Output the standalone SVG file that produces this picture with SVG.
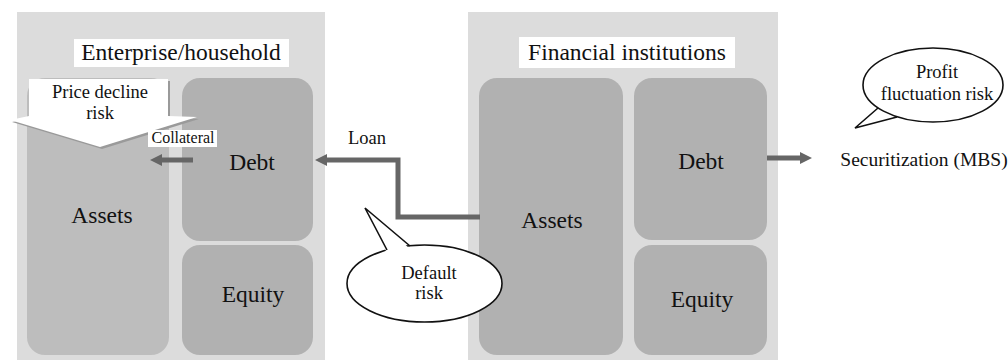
<svg xmlns="http://www.w3.org/2000/svg" width="1008" height="360" viewBox="0 0 1008 360">
<defs>
<style>
text{font-family:"Liberation Serif","Times New Roman",serif;fill:#111;text-anchor:middle}
.panel{fill:#dcdcdc}
.title{fill:#fff}
.box1{fill:#bdbdbd}
.box2{fill:#b1b1b1}
.big{font-size:23.5px}
.head{font-size:23.5px}
.mid{font-size:18.5px}
.small{font-size:16px}
.conn{fill:none;stroke:#666;stroke-width:5}
.bubble{fill:#fff;stroke:#111;stroke-width:1.6}
.tail{fill:#fff;stroke:none}
.tailline{fill:none;stroke:#111;stroke-width:1.6}
</style>
<marker id="ah" viewBox="0 0 12 12" refX="2" refY="6" markerWidth="12" markerHeight="12" markerUnits="userSpaceOnUse" orient="auto">
<path d="M0,0 L12,6 L0,12 z" fill="#666"/>
</marker>
</defs>
<rect width="1008" height="360" fill="#fff"/>

<g id="enterprise">
<rect class="panel" x="17" y="12" width="308" height="348"/>
<rect class="title" x="74" y="39" width="215" height="28"/>
<text class="head" x="181" y="60">Enterprise/household</text>
</g>
<g id="ent-assets">
<rect class="box1" x="27" y="78" width="142" height="277" rx="18"/>
<text class="big" x="102" y="223">Assets</text>
</g>
<g id="ent-debt">
<rect class="box2" x="182" y="78" width="131" height="163" rx="18"/>
<text class="big" x="252" y="170">Debt</text>
</g>
<g id="ent-equity">
<rect class="box2" x="182" y="245" width="131" height="110" rx="18"/>
<text class="big" x="253" y="302">Equity</text>
</g>

<g id="financial">
<rect class="panel" x="468" y="12" width="310" height="348"/>
<rect class="title" x="519" y="37" width="216" height="31"/>
<text class="head" x="627" y="60">Financial institutions</text>
</g>
<g id="fin-assets">
<rect class="box2" x="479" y="78" width="144" height="277" rx="18"/>
<text class="big" x="552" y="228">Assets</text>
</g>
<g id="fin-debt">
<rect class="box2" x="634" y="78" width="133" height="162" rx="18"/>
<text class="big" x="701" y="169">Debt</text>
</g>
<g id="fin-equity">
<rect class="box2" x="634" y="245" width="133" height="110" rx="18"/>
<text class="big" x="702" y="307">Equity</text>
</g>

<g id="connectors">
<path class="conn" d="M193,160 H160" marker-end="url(#ah)"/>
<path class="conn" d="M480,217 H398 V160 H325" marker-end="url(#ah)"/>
<path class="conn" d="M767,158 H802" marker-end="url(#ah)"/>
</g>

<g id="price-decline-risk">
<polygon points="31,81 170,81 170,118 199,119 102,149 12,122 31,118" fill="#9a9a9a"/>
<polygon points="29,79 168,79 168,116 197,117 100,147 10,120 29,116" fill="#fff"/>
<text class="mid" x="100" y="98">Price decline</text>
<text class="mid" x="100" y="119">risk</text>
</g>

<g id="collateral">
<rect fill="#fff" x="148" y="130" width="69" height="17"/>
<text class="small" x="183" y="143">Collateral</text>
</g>

<g id="loan">
<text class="mid" x="367" y="144">Loan</text>
</g>

<g id="default-risk">
<ellipse class="bubble" cx="424.5" cy="283.5" rx="77.5" ry="38.5"/>
<polygon class="tail" points="387,253 365,208 410,249"/>
<polyline class="tailline" points="387,250 365,208 410,246"/>
<text class="mid" x="429" y="279">Default</text>
<text class="mid" x="429" y="299">risk</text>
</g>

<g id="profit-risk">
<ellipse class="bubble" cx="933" cy="85" rx="70" ry="37"/>
<polygon class="tail" points="878,110 855,128 897,119"/>
<polyline class="tailline" points="878,108 855,128 897,117"/>
<text class="mid" x="937" y="78" font-size="16.5px">Profit</text>
<text class="mid" x="937" y="100" font-size="16.5px">fluctuation risk</text>
</g>

<g id="securitization">
<text x="924" y="166" font-size="19.5px">Securitization (MBS)</text>
</g>
</svg>
